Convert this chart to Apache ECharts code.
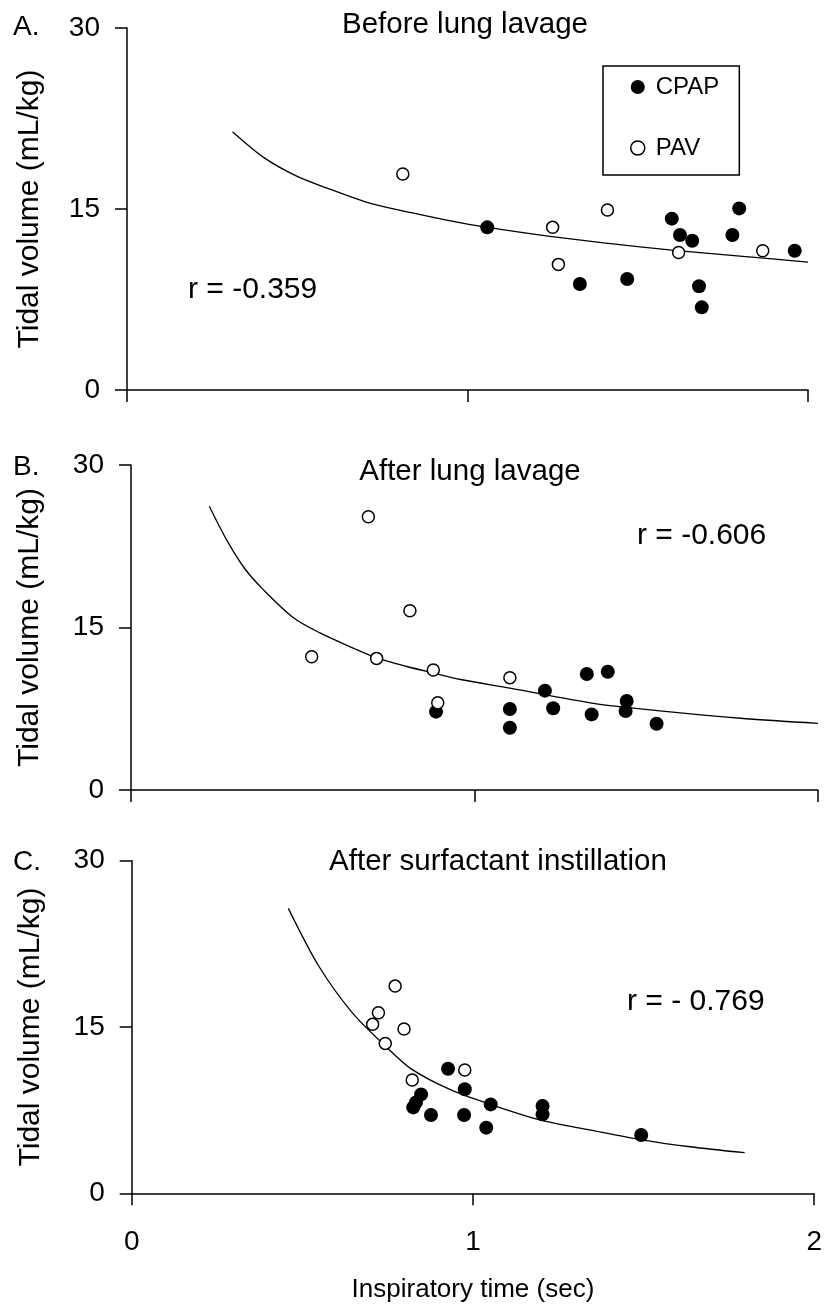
<!DOCTYPE html>
<html>
<head>
<meta charset="utf-8">
<script src="https://cdn.jsdelivr.net/npm/echarts@6/dist/echarts.min.js"></script>
<style>html,body{margin:0;padding:0;background:#fff}#c{width:825px;height:1307px}</style>
</head>
<body>
<div id="c"></div>
<script>
// ---- data ----
const panelTitles = ['Before lung lavage', 'After lung lavage', 'After surfactant instillation'];
const panelLetters = ['A.', 'B.', 'C.'];
const rLabels = ['r = -0.359', 'r = -0.606', 'r = - 0.769'];
const xTickValues = [0, 1, 2];
const yTickValues = [0, 15, 30];
const xAxisTitle = 'Inspiratory time (sec)';
const yAxisTitle = 'Tidal volume (mL/kg)';
const seriesNames = ['CPAP', 'PAV'];

// Panel A: before lung lavage
const cpapA = [[1.058,13.48],[1.330,8.78],[1.469,9.2],[1.600,14.2],[1.624,12.84],[1.660,12.37],[1.680,8.6],[1.688,6.85],[1.778,12.84],[1.798,15.05],[1.961,11.54]];
const pavA = [[0.810,17.9],[1.250,13.48],[1.267,10.41],[1.411,14.91],[1.620,11.4],[1.867,11.54]];
const fitA = [[0.31,21.4],[0.4,19.3],[0.5,17.7],[0.6,16.6],[0.7,15.6],[0.8,14.9],[0.9,14.3],[1.0,13.75],[1.2,12.9],[1.4,12.2],[1.6,11.6],[1.8,11.1],[2.0,10.6]];

// Panel B: after lung lavage
const cpapB = [[0.888,7.23],[1.103,7.48],[1.103,5.75],[1.205,9.17],[1.229,7.54],[1.327,10.71],[1.388,10.92],[1.341,6.98],[1.443,8.22],[1.440,7.29],[1.530,6.12]];
const pavB = [[0.691,25.23],[0.526,12.3],[0.715,12.15],[0.812,16.55],[0.880,11.08],[0.893,8.06],[1.103,10.37]];
const fitB = [[0.228,26.2],[0.28,23.0],[0.332,20.4],[0.385,18.5],[0.473,15.9],[0.55,14.5],[0.647,13.1],[0.715,12.2],[0.803,11.4],[0.88,10.8],[0.96,10.2],[1.103,9.4],[1.346,8.0],[1.54,7.3],[1.783,6.6],[2.0,6.15]];

// Panel C: after surfactant instillation
const cpapC = [[0.927,11.24],[0.848,8.92],[0.833,8.2],[0.825,7.75],[0.877,7.06],[0.976,9.38],[0.974,7.06],[1.052,8.02],[1.039,5.92],[1.204,7.87],[1.204,7.12],[1.493,5.26]];
const pavC = [[0.772,18.69],[0.723,16.29],[0.706,15.24],[0.798,14.82],[0.743,13.52],[0.822,10.22],[0.976,11.12]];
const fitC = [[0.459,25.7],[0.548,20.5],[0.646,16.3],[0.743,13.3],[0.82,11.2],[0.937,9.3],[1.053,8.0],[1.199,6.6],[1.345,5.7],[1.49,4.85],[1.636,4.2],[1.796,3.66]];

// ---- layout / styling ----
const FONT = '"Liberation Sans", Arial, Helvetica, sans-serif';
const grids = [
  {left: 127, top: 28, width: 681, height: 362},
  {left: 131, top: 465, width: 687, height: 325},
  {left: 131.7, top: 860.7, width: 684.3, height: 332.6}
];
const titlePos = [[465, 25], [470, 472], [498, 862]];
const letterPos = [[13, 27], [13, 467], [13, 862]];
const rPos = [[188, 290], [637, 536], [627, 1002]];
const cpapSets = [cpapA, cpapB, cpapC];
const pavSets = [pavA, pavB, pavC];
const fitSets = [fitA, fitB, fitC];

const axisLine = {show: true, lineStyle: {color: '#000', width: 1.5}};
const axisTick = {show: true, inside: false, length: 12, lineStyle: {color: '#000', width: 1.5}};

const xAxes = [], yAxes = [], series = [], graphics = [];
for (let i = 0; i < 3; i++) {
  const last = i === 2;
  xAxes.push({
    gridIndex: i, type: 'value', min: xTickValues[0], max: xTickValues[xTickValues.length - 1], interval: 1,
    axisLine, axisTick, splitLine: {show: false},
    axisLabel: {show: last, margin: 35, color: '#000', fontSize: 28, fontFamily: FONT},
    name: last ? xAxisTitle : '', nameLocation: 'middle', nameGap: 84,
    nameTextStyle: {color: '#000', fontSize: 26, fontFamily: FONT}
  });
  yAxes.push({
    gridIndex: i, type: 'value', min: yTickValues[0], max: yTickValues[yTickValues.length - 1], interval: 15,
    axisLine, axisTick, splitLine: {show: false},
    axisLabel: {margin: 27, color: '#000', fontSize: 28, fontFamily: FONT},
    name: yAxisTitle, nameLocation: 'middle', nameRotate: 90, nameGap: i === 0 ? 82 : 86,
    nameTextStyle: {color: '#000', fontSize: 30, fontFamily: FONT}
  });
  series.push({
    name: seriesNames[0], type: 'scatter', xAxisIndex: i, yAxisIndex: i, data: cpapSets[i],
    symbol: 'circle', symbolSize: 14, itemStyle: {color: '#000', opacity: 1}, z: 3
  });
  series.push({
    name: seriesNames[1], type: 'scatter', xAxisIndex: i, yAxisIndex: i, data: pavSets[i],
    symbol: 'circle', symbolSize: 12, itemStyle: {color: '#fff', borderColor: '#000', borderWidth: 1.5, opacity: 1}, z: 4
  });
  series.push({
    name: 'fit', type: 'line', xAxisIndex: i, yAxisIndex: i, data: fitSets[i], smooth: 0.3,
    showSymbol: false, symbol: 'none', lineStyle: {color: '#000', width: 1.3}, z: 2, silent: true
  });
  graphics.push({type: 'text', x: titlePos[i][0], y: titlePos[i][1],
    style: {text: panelTitles[i], fontSize: 29.5, fontFamily: FONT, fill: '#000', align: 'center', verticalAlign: 'middle'}});
  graphics.push({type: 'text', x: letterPos[i][0], y: letterPos[i][1],
    style: {text: panelLetters[i], fontSize: 28, fontFamily: FONT, fill: '#000', align: 'left', verticalAlign: 'middle'}});
  graphics.push({type: 'text', x: rPos[i][0], y: rPos[i][1],
    style: {text: rLabels[i], fontSize: 30, fontFamily: FONT, fill: '#000', align: 'left', verticalAlign: 'middle'}});
}

const chart = echarts.init(document.getElementById('c'), null, {renderer: 'canvas'});
chart.setOption({
  animation: false,
  backgroundColor: '#fff',
  grid: grids,
  xAxis: xAxes,
  yAxis: yAxes,
  legend: {
    orient: 'vertical', left: 603, top: 66,
    padding: [9, 20, 15, 27], itemGap: 37, itemWidth: 14, itemHeight: 14,
    borderColor: '#000', borderWidth: 1.5,
    textStyle: {color: '#000', fontSize: 24, fontFamily: FONT, padding: [0, 0, 0, 6]},
    data: [
      {name: 'CPAP', icon: 'circle', itemStyle: {color: '#000', borderWidth: 0}},
      {name: 'PAV', icon: 'circle', itemStyle: {color: '#fff', borderColor: '#000', borderWidth: 1.5}}
    ],
    selectedMode: false
  },
  series: series,
  graphic: graphics
});
</script>
</body>
</html>
